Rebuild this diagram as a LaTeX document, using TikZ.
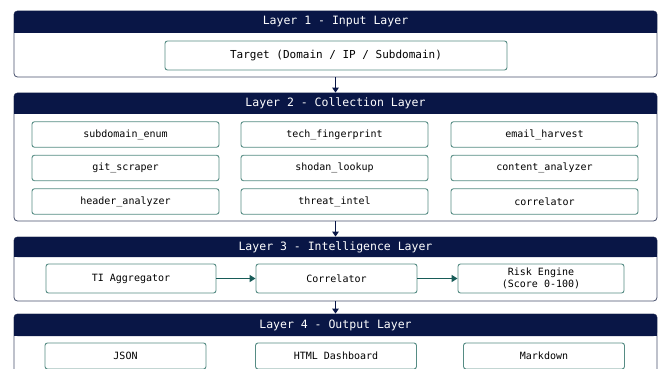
\documentclass[tikz,border=0pt]{standalone}
\usepackage{fontspec}
\usetikzlibrary{arrows.meta}
\newfontfamily\monofont{DejaVu Sans Mono}
\definecolor{navy}{RGB}{9,22,70}
\definecolor{framegray}{RGB}{72,80,108}
\definecolor{boxteal}{RGB}{86,140,132}
\definecolor{flowteal}{RGB}{24,92,88}

\begin{document}
\begin{tikzpicture}[x=1pt, y=-1pt,
  frame/.style={draw=framegray, line width=0.8pt, rounded corners=3.5pt, fill=white, inner sep=0pt},
  headtext/.style={text=white, font=\monofont\fontsize{11.5}{13}\selectfont},
  item/.style={draw=boxteal, line width=0.9pt, rounded corners=2.5pt, fill=white, inner sep=0pt,
    align=center, font=\monofont\fontsize{10}{12}\selectfont},
  layerarrow/.style={draw=navy, line width=1.4pt, -{Triangle[length=5pt,width=6.5pt]}},
  flowarrow/.style={draw=flowteal, line width=1.8pt, -{Triangle[length=6pt,width=7pt]}}]

  \useasboundingbox (0,0) rectangle (662,369);
  \clip (0,0) rectangle (662,369);

  % layer frames with navy title bands
  \foreach \n/\t/\b/\h/\title in {L1/11/77/33/Layer 1 - Input Layer,
      L2/93/221/114/Layer 2 - Collection Layer,
      L3/237/301/257/Layer 3 - Intelligence Layer,
      L4/314/395/336/Layer 4 - Output Layer} {
    \node[frame, minimum width=643pt, minimum height={(\b-\t)*1pt}] (\n) at (335.5,{(\t+\b)/2}) {};
    \fill[navy, rounded corners=3.5pt] (14,\t) rectangle (657,\h);
    \fill[navy] (14,\h-5) rectangle (657,\h);
    \node[headtext] (\n-title) at (335.5,{(\t+\h)/2}) {\title};
  }

  % layer 1
  \node[item, font=\monofont\fontsize{11}{13}\selectfont, minimum width=342pt, minimum height=29pt]
    (target) at (336,55.5) {Target (Domain / IP / Subdomain)};

  % layer 2
  \foreach \n/\x/\y/\t in {subenum/125.5/134.5/subdomain\_enum, techfp/334.5/134.5/tech\_fingerprint,
      email/544.5/134.5/email\_harvest, git/125.5/168/git\_scraper,
      shodan/334.5/168/shodan\_lookup, content/544.5/168/content\_analyzer,
      header/125.5/201.5/header\_analyzer, threat/334.5/201.5/threat\_intel,
      correl/544.5/201.5/correlator} {
    \node[item, minimum width=187pt, minimum height=25.5pt] (\n) at (\x,\y) {\t};
  }

  % layer 3
  \foreach \n/\x/\w/\t in {tiagg/131/170/TI Aggregator, corr/336.5/161/Correlator,
      risk/541/166/{Risk Engine\\(Score 0-100)}} {
    \node[item, minimum width=\w pt, minimum height=29pt] (\n) at (\x,278.5) {\t};
  }
  \draw[flowarrow] (tiagg) -- (corr);
  \draw[flowarrow] (corr) -- (risk);

  % layer 4
  \foreach \n/\x/\t in {json/125.5/JSON, html/336/HTML Dashboard, markdown/544/Markdown} {
    \node[item, minimum width=161pt, minimum height=26pt] (\n) at (\x,356) {\t};
  }

  % between layers
  \draw[layerarrow] (L1) -- (L2);
  \draw[layerarrow] (L2) -- (L3);
  \draw[layerarrow] (L3) -- (L4);
\end{tikzpicture}
\end{document}
